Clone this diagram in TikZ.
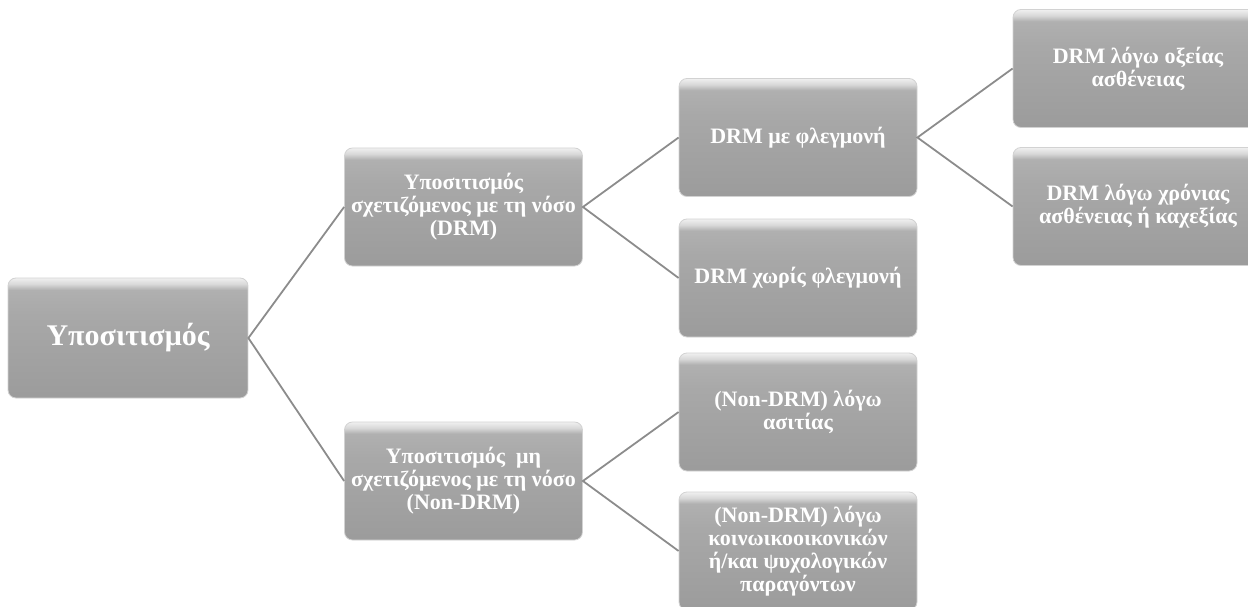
\documentclass[tikz,border=0pt]{standalone}
\usepackage{fontspec}
\setmainfont{Liberation Serif}
\pgfdeclareverticalshading{boxshade}{100bp}{color(0bp)=(gray!78); color(25bp)=(gray!78); color(60bp)=(gray!68); color(70bp)=(gray!62); color(72.5bp)=(gray!30); color(75bp)=(gray!12); color(100bp)=(gray!12)}
\tikzset{
  box/.style={rectangle,rounded corners=8pt,minimum width=238pt,minimum height=118pt,
    shade,shading=boxshade,draw=gray!35,line width=0.8pt,text=white,align=center,inner sep=2pt,
    font=\bfseries\fontsize{22}{23}\selectfont},
  link/.style={draw=gray!90,line width=1.8pt}
}
\begin{document}
\begin{tikzpicture}[x=1pt,y=-1pt]
  \clip (0,0) rectangle (1248,607);
  \node[box,minimum width=240pt,minimum height=120pt,font=\bfseries\fontsize{30}{34}\selectfont] (root) at (128,338) {Υποσιτισμός};
  \node[box] (drm) at (463.5,207) {Υποσιτισμός\\σχετιζόμενος με τη νόσο\\(DRM)};
  \node[box] (nondrm) at (463.5,481) {Υποσιτισμός\ \ μη\\σχετιζόμενος με τη νόσο\\(Non-DRM)};
  \node[box] (inflam) at (798,137.5) {DRM με φλεγμονή};
  \node[box] (noinflam) at (798,278) {DRM χωρίς φλεγμονή};
  \node[box] (fast) at (798,412) {(Non-DRM) λόγω\\ασιτίας};
  \node[box] (socio) at (798,551) {(Non-DRM) λόγω\\κοινωικοοικονικών\\ή/και ψυχολογικών\\παραγόντων};
  \node[box,minimum width=250pt] (acute) at (1138,68.5) {DRM λόγω οξείας\\ασθένειας};
  \node[box,minimum width=250pt] (chronic) at (1138,206.5) {DRM λόγω χρόνιας\\ασθένειας ή καχεξίας};
  \draw[link] (drm.west)--(root.east)--(nondrm.west);
  \draw[link] (inflam.west)--(drm.east)--(noinflam.west);
  \draw[link] (fast.west)--(nondrm.east)--(socio.west);
  \draw[link] (acute.west)--(inflam.east)--(chronic.west);
\end{tikzpicture}
\end{document}
